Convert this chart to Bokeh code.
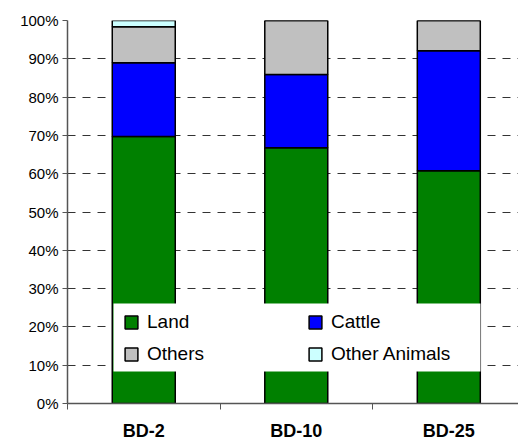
from bokeh.plotting import figure
from bokeh.models import (Range1d, FixedTicker, Legend, LegendItem, ColumnDataSource,
                          NumeralTickFormatter, BoxAnnotation)
from bokeh.embed import file_html
from bokeh.resources import INLINE

categories = ["BD-2", "BD-10", "BD-25"]
land = [69.7, 66.8, 60.8]
cattle = [19.3, 19.1, 31.3]
others = [9.4, 14.1, 7.9]
other_animals = [1.6, 0.0, 0.0]
series = ["Land", "Cattle", "Others", "Other Animals"]
colors = ["#008000", "#0000FF", "#C0C0C0", "#CCFFFF"]
y_ticks = [0, 10, 20, 30, 40, 50, 60, 70, 80, 90, 100]

centers = [i + 0.5 for i in range(len(categories))]
source = ColumnDataSource(dict(x=centers, Land=land, Cattle=cattle, Others=others,
                               **{"Other Animals": other_animals}))

FONT = "Liberation Sans"

p = figure(width=518, height=443, output_backend="svg", toolbar_location=None,
           x_range=Range1d(0, 2.957), y_range=Range1d(0, 100),
           min_border_left=67, min_border_top=20, min_border_right=0, min_border_bottom=40)

renderers = p.vbar_stack(series, x="x", width=0.413, source=source, color=colors,
                         line_color="black", line_width=1.5)

p.outline_line_color = None
p.xgrid.grid_line_color = None
p.ygrid.ticker = FixedTicker(ticks=y_ticks)
p.ygrid.grid_line_color = "#333333"
p.ygrid.grid_line_dash = "8 7"
p.ygrid.grid_line_width = 1

yax = p.yaxis[0]
yax.ticker = FixedTicker(ticks=y_ticks)
yax.formatter = NumeralTickFormatter(format="0")
yax.major_label_overrides = {v: f"{v}%" for v in y_ticks}
yax.axis_line_color = "#555555"
yax.axis_line_width = 1.5
yax.major_tick_line_color = "#555555"
yax.major_tick_out = 5
yax.major_tick_in = 0
yax.minor_tick_line_color = None
yax.major_label_text_font = FONT
yax.major_label_text_font_size = "15px"
yax.major_label_text_color = "black"
yax.major_label_standoff = 4

xax = p.xaxis[0]
xax.ticker = FixedTicker(ticks=centers, minor_ticks=[0, 1, 2, 3])
xax.major_label_overrides = {c: n for c, n in zip(centers, categories)}
xax.axis_line_color = "#555555"
xax.axis_line_width = 1.5
xax.major_tick_line_color = None
xax.major_tick_out = 0
xax.minor_tick_line_color = "#555555"
xax.minor_tick_out = 6
xax.minor_tick_in = 0
xax.major_label_text_font = FONT
xax.major_label_text_font_style = "bold"
xax.major_label_text_font_size = "18px"
xax.major_label_text_color = "black"
xax.major_label_standoff = 11

# white legend panel behind the two legend columns
panel = BoxAnnotation(left=113, right=480, top=303, bottom=371,
                      left_units="canvas", right_units="canvas",
                      top_units="canvas", bottom_units="canvas",
                      fill_color="white", fill_alpha=1, line_color=None)
p.add_layout(panel)


def make_legend(idx, loc):
    lg = Legend(items=[LegendItem(label=series[i], renderers=[renderers[i]]) for i in idx],
                location=loc, orientation="vertical")
    lg.border_line_color = None
    lg.background_fill_alpha = 0
    lg.label_text_font = FONT
    lg.label_text_font_size = "19px"
    lg.label_text_color = "black"
    lg.glyph_width = 16
    lg.glyph_height = 16
    lg.label_standoff = 8
    lg.label_height = 30
    lg.spacing = 2
    lg.margin = 0
    return lg


p.add_layout(make_legend([0, 2], (56, 34)), "center")
p.add_layout(make_legend([1, 3], (240, 34)), "center")

open("out.html", "w").write(file_html(p, INLINE))
